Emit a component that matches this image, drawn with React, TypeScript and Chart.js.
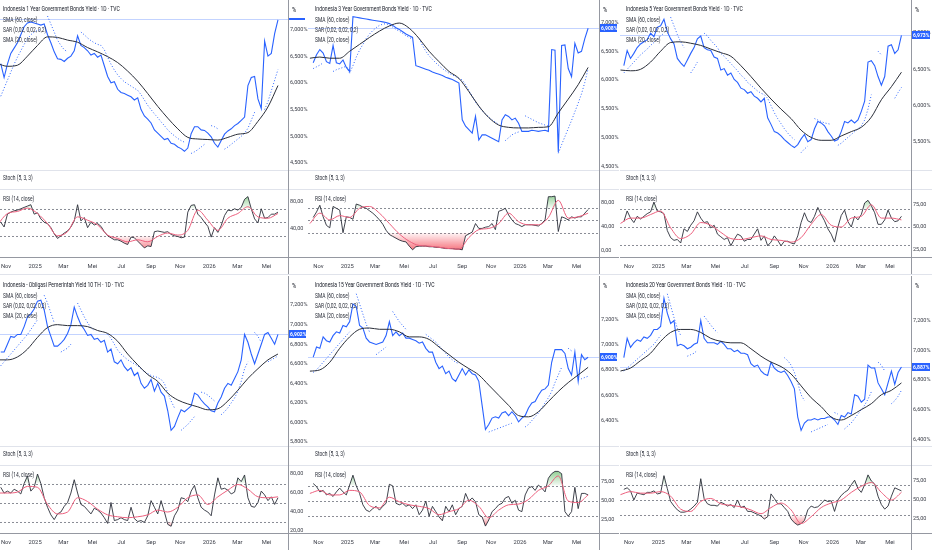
import React, { useEffect, useRef } from 'react';
import { Chart, registerables } from 'chart.js';

Chart.register(...registerables);

// ---------- time axis (days after 2024-10-01) ----------
const START_DAY = 20; // first weekly close: 2024-10-21
const STEP_DAYS = 7; // weekly closes
const SLOW_STEP = 3; // smooth lines (SMA 60, RSI MA) sampled every 3 weeks
const TIME_TICKS = [31, 92, 151, 212, 273, 335, 396, 457, 516, 577];
const TIME_LABELS = ['Nov', '2025', 'Mar', 'Mei', 'Jul', 'Sep', 'Nov', '2026', 'Mar', 'Mei'];

const RSI_LEVELS = [70, 50, 30];
const LEGEND_LINES = ['SMA (60, close)', 'SAR (0,02, 0,02, 0,2)', 'SMA (20, close)'];
const STOCH_LABEL = 'Stoch (5, 3, 3)';
const RSI_LABEL = 'RSI (14, close)';

const TITLES = [
  'Indonesia 1 Year Government Bonds Yield · 1D · TVC',
  'Indonesia 3 Year Government Bonds Yield · 1D · TVC',
  'Indonesia 5 Year Government Bonds Yield · 1D · TVC',
  'Indonesia - Obligasi Pemerintah Yield 10 TH · 1D · TVC',
  'Indonesia 15 Year Government Bonds Yield · 1D · TVC',
  'Indonesia 20 Year Government Bonds Yield · 1D · TVC',
];

// ---------- 1 Year ----------
const Y1_CLOSE = [6.36, 6.10, 6.35, 6.55, 6.65, 6.75, 6.90, 7.05, 7.12, 7.14,
  7.12, 7.10, 7.08, 7.10, 6.90, 6.75, 6.58, 6.45, 6.44, 6.40,
  6.46, 6.50, 6.60, 6.88, 6.70, 6.66, 6.60, 6.52, 6.55, 6.48,
  6.52, 6.32, 6.12, 6.00, 6.02, 5.88, 5.82, 5.80, 5.77, 5.74,
  5.68, 5.72, 5.50, 5.38, 5.32, 5.25, 5.12, 5.06, 5.00, 4.94,
  4.96, 4.87, 4.85, 4.80, 4.77, 4.72, 4.78, 5.05, 5.18, 5.18,
  5.12, 5.11, 5.06, 4.99, 4.87, 4.80, 4.92, 5.04, 5.10, 5.14,
  5.20, 5.24, 5.30, 5.36, 5.95, 6.10, 6.12, 5.70, 5.52, 6.78,
  6.50, 6.55, 6.92, 7.18];
const Y1_SMA60 = [6.36, 6.31, 6.33, 6.50, 6.70, 6.86, 6.85, 6.80, 6.76, 6.66, 6.58, 6.49, 6.38, 6.22, 6.03,
  5.80, 5.56, 5.34, 5.14, 4.98, 4.95, 4.94, 4.93, 4.98, 5.04, 5.07, 5.28, 5.55, 5.95];
const Y1_SAR = [5.75, 5.90, 6.05, 6.20, 6.35, 6.48, 6.60, 6.72, 6.82, 6.90,
  6.95, 6.98, 7.00, null, 7.25, 7.10, 6.95, 6.80, 6.70, 6.62,
  6.58, null, 6.35, null, 6.95, 6.90, 6.84, 6.79, 6.75, 6.72,
  6.70, 6.62, 6.48, 6.35, 6.24, 6.15, 6.08, 6.02, 5.98, 5.94,
  5.90, 5.86, 5.78, 5.68, 5.58, 5.50, 5.42, 5.35, 5.27, 5.20,
  5.12, 5.06, 5.01, 4.96, 4.92, 4.89, null, 4.68, 4.71, 4.75,
  4.80, 4.85, null, 5.20, 5.18, 5.14, null, 4.76, 4.80, 4.85,
  4.90, 4.95, 5.00, 5.06, 5.15, 5.30, 5.45, null, null, 5.50,
  5.65, 5.85, 6.05, 6.25];
const Y1_RSI = [50, 43, 62, 65, 67, 68, 70, 72, 74, 76,
  62, 64, 55, 50, 48, 42, 33, 26, 30, 34,
  37, 43, 52, 76, 52, 57, 42, 50, 46, 48,
  44, 36, 30, 27, 24, 24, 22, 19, 17, 28,
  27, 22, 17, 12, 15, 14, 36, 37, 36, 35,
  36, 32, 30, 29, 27, 28, 65, 75, 76, 62,
  57, 50, 44, 28, 42, 35, 45, 60, 68, 67,
  70, 68, 72, 84, 88, 70, 55, 49, 70, 56,
  57, 62, 62, 65];
const Y1_RSI_MA = [46, 63, 66, 71, 63, 48, 30, 36, 58, 53, 46, 31, 26, 21, 24, 21, 29, 34, 31, 38,
  68, 53, 38, 56, 63, 73, 58, 56, 63];

// ---------- 3 Year ----------
const Y3_CLOSE = [6.30, 6.44, 6.53, 6.47, 6.32, 6.29, 6.60, 6.30, 6.28, 6.35,
  6.22, 6.15, 7.10, 7.09, 7.08, 7.07, 7.06, 7.05, 7.04, 7.03,
  7.02, 7.01, 7.00, 6.98, 6.95, 6.91, 6.88, 6.84, 6.80, 6.77,
  6.74, 6.25, 6.23, 6.21, 6.19, 6.17, 6.14, 6.12, 6.10, 6.08,
  6.05, 6.03, 6.01, 5.98, 5.95, 5.31, 5.20, 5.14, 5.08, 5.37,
  4.96, 5.05, 5.05, 5.02, 4.99, 4.96, 4.93, 5.31, 5.40, 5.37,
  5.31, 5.34, 5.25, 5.11, 5.11, 5.11, 5.13, 5.12, 5.11, 5.12,
  5.13, 5.11, 6.53, 6.52, 4.75, 6.60, 6.61, 6.20, 6.06, 6.64,
  6.47, 6.50, 6.72, 6.90];
const Y3_SMA60 = [6.38, 6.40, 6.38, 6.38, 6.50, 6.62, 6.74, 6.85, 6.94, 6.99, 6.90, 6.72, 6.50, 6.32, 6.15,
  6.03, 5.80, 5.55, 5.35, 5.22, 5.18, 5.17, 5.17, 5.18, 5.19, 5.43, 5.67, 5.92, 6.22];
const Y3_SAR = [6.20, 6.23, 6.26, 6.30, null, null, 6.15, 6.18, 6.20, 6.22,
  6.24, 6.12, 6.25, 6.40, 6.52, 6.62, 6.72, 6.80, 6.86, 6.91,
  6.95, 6.97, 6.98, 6.95, 6.92, 6.88, 6.85, 6.81, 6.77, 6.74,
  6.71, null, 6.72, 6.60, 6.50, 6.42, 6.36, 6.30, 6.25, 6.20,
  6.16, 6.12, 6.09, 6.06, 6.03, 6.00, 5.92, 5.82, 5.72, 5.62,
  5.54, 5.47, 5.41, 5.36, 5.31, 5.27, 5.23, null, 4.95, 5.00,
  5.05, 5.08, 5.10, null, 5.38, 5.35, 5.32, 5.29, 5.26, 5.24,
  5.22, 5.20, null, null, 4.73, 4.88, 5.02, 5.16, 5.30, 5.45,
  5.60, 5.76, 5.96, 6.20];
const Y3_RSI = [55, 64, 75, 56, 42, 38, 73, 70, 67, 30,
  56, 55, 52, 77, 75, 72, 70, 66, 62, 57,
  51, 44, 34, 27, 24, 21, 18, 16, 15, 8,
  2, 7, 8, 8, 8, 7, 7, 6, 6, 5,
  4, 4, 4, 3, 3, 2, 25, 28, 31, 45,
  37, 37, 39, 40, 45, 35, 65, 67, 70, 59,
  51, 45, 43, 40, 43, 43, 43, 42, 41, 45,
  51, 89, 89, 90, 32, 56, 54, 51, 56, 54,
  56, 56, 62, 68];
const Y3_RSI_MA = [45, 62, 51, 58, 55, 70, 73, 62, 45, 28, 16, 9, 8, 6, 4, 3, 22, 35, 37, 45,
  62, 48, 43, 43, 55, 83, 54, 56, 62];

// ---------- 5 Year ----------
const Y5_CLOSE = [6.55, 6.76, 6.65, 6.72, 6.80, 6.85, 6.88, 6.91, 7.00, 6.95,
  7.08, 7.10, 7.19, 7.02, 6.92, 6.85, 6.65, 6.59, 6.54, 6.63,
  6.72, 6.80, 6.92, 6.96, 6.80, 6.77, 6.76, 6.67, 6.65, 6.49,
  6.51, 6.42, 6.45, 6.36, 6.32, 6.24, 6.22, 6.17, 6.19, 6.13,
  6.10, 6.05, 6.10, 5.83, 5.74, 5.64, 5.62, 5.58, 5.53, 5.49,
  5.45, 5.42, 5.46, 5.54, 5.60, 5.50, 5.53, 5.68, 5.78, 5.76,
  5.72, 5.64, 5.58, 5.51, 5.53, 5.64, 5.78, 5.76, 5.80, 5.76,
  5.80, 5.92, 6.06, 6.60, 6.62, 6.55, 6.40, 6.28, 6.40, 6.82,
  6.84, 6.72, 6.77, 6.97];
const Y5_SMA60 = [6.49, 6.48, 6.50, 6.60, 6.75, 6.87, 6.88, 6.86, 6.83, 6.78, 6.73, 6.68, 6.55, 6.40, 6.24,
  6.09, 5.95, 5.82, 5.66, 5.56, 5.52, 5.52, 5.58, 5.64, 5.70, 5.84, 6.08, 6.26, 6.46];
const Y5_SAR = [6.45, 6.50, 6.55, 6.60, 6.65, 6.70, 6.74, 6.78, 6.83, 6.87,
  6.92, 6.96, 7.00, null, 7.22, 7.10, 6.98, 6.88, 6.80, null,
  6.45, 6.52, 6.60, null, 7.00, 6.96, 6.90, 6.85, 6.80, 6.72,
  6.68, 6.63, 6.58, 6.53, 6.48, 6.42, 6.38, 6.32, 6.28, 6.24,
  6.20, 6.17, 6.15, 6.10, 6.00, 5.90, 5.82, 5.75, 5.68, 5.62,
  5.57, 5.53, null, 5.35, 5.40, 5.44, null, 5.82, 5.80, 5.78,
  5.76, 5.75, 5.74, null, 5.45, 5.48, 5.52, 5.56, 5.60, 5.64,
  5.68, 5.72, 5.80, 5.95, 6.15, null, 6.75, 6.70, null, 6.20,
  null, 6.10, 6.18, 6.25];
const Y5_RSI = [56, 68, 60, 55, 62, 59, 62, 65, 67, 78,
  68, 67, 65, 46, 38, 35, 36, 32, 48, 45,
  52, 57, 67, 60, 55, 56, 49, 52, 42, 39,
  36, 38, 29, 36, 42, 40, 34, 36, 36, 42,
  48, 35, 40, 29, 33, 40, 35, 29, 34, 34,
  32, 31, 40, 55, 66, 57, 55, 62, 72, 64,
  57, 48, 42, 33, 50, 63, 69, 56, 50, 62,
  58, 64, 77, 80, 74, 66, 53, 53, 58, 69,
  60, 56, 57, 62];
const Y5_RSI_MA = [54, 60, 60, 64, 68, 49, 37, 42, 55, 52, 44, 37, 36, 38, 40, 36, 35, 33, 38, 53,
  64, 52, 50, 60, 62, 75, 60, 60, 58];

// ---------- 10 Year ----------
const Y10_CLOSE = [6.72, 6.72, 6.80, 6.88, 6.87, 6.90, 6.90, 6.98, 7.08, 7.11,
  7.16, 7.24, 7.25, 7.15, 6.98, 6.88, 6.78, 6.78, 6.81, 6.85,
  6.91, 7.00, 7.18, 7.08, 7.00, 6.95, 6.89, 6.90, 6.85, 6.86,
  6.82, 6.84, 6.72, 6.75, 6.62, 6.60, 6.64, 6.57, 6.53, 6.56,
  6.48, 6.51, 6.40, 6.35, 6.38, 6.44, 6.32, 6.40, 6.31, 6.27,
  6.12, 5.92, 5.96, 6.05, 6.13, 6.11, 6.14, 6.17, 6.30, 6.28,
  6.23, 6.19, 6.16, 6.12, 6.11, 6.20, 6.26, 6.35, 6.40, 6.38,
  6.45, 6.52, 6.64, 6.90, 6.82, 6.70, 6.60, 6.70, 6.80, 6.90,
  6.92, 6.86, 6.80, 6.90];
const Y10_SMA60 = [6.64, 6.64, 6.67, 6.75, 6.87, 6.97, 7.00, 6.99, 6.99, 6.98, 6.94, 6.91, 6.83, 6.70, 6.59,
  6.49, 6.42, 6.30, 6.23, 6.19, 6.16, 6.13, 6.14, 6.22, 6.33, 6.45, 6.55, 6.64, 6.70];
const Y10_SAR = [6.58, 6.62, 6.66, 6.70, 6.74, 6.78, 6.82, 6.86, 6.90, 6.95,
  7.00, 7.05, null, 7.30, 7.22, 7.12, 7.02, null, 6.72, 6.74,
  6.76, 6.80, null, 7.22, 7.15, 7.08, 7.02, 6.97, 6.94, null,
  null, null, 6.90, 6.86, 6.80, 6.74, 6.70, 6.67, 6.64, 6.62,
  6.60, 6.58, 6.55, 6.52, 6.50, 6.48, 6.47, 6.46, 6.44, 6.40,
  6.30, 6.22, 6.15, null, 5.92, 5.95, 5.98, 6.02, 6.06, null,
  6.31, 6.30, 6.28, 6.25, 6.22, null, 6.08, 6.11, 6.15, 6.20,
  6.25, 6.32, 6.42, 6.55, 6.62, null, 6.92, 6.88, 6.82, null,
  6.62, 6.64, 6.66, 6.68];
const Y10_RSI = [66, 60, 62, 60, 64, 62, 59, 70, 78, 62,
  66, 80, 70, 55, 45, 37, 32, 38, 40, 46,
  50, 60, 74, 60, 48, 46, 42, 38, 44, 42,
  39, 34, 28, 50, 31, 32, 34, 32, 31, 45,
  33, 30, 31, 29, 36, 52, 45, 38, 52, 40,
  27, 25, 36, 42, 55, 54, 51, 62, 68, 55,
  45, 42, 40, 36, 58, 76, 64, 65, 63, 59,
  61, 76, 72, 79, 55, 46, 45, 50, 62, 58,
  52, 56, 48, 55];
const Y10_RSI_MA = [60, 60, 61, 67, 66, 48, 38, 40, 55, 51, 43, 37, 35, 34, 35, 37, 42, 40, 45, 55,
  58, 48, 56, 63, 69, 64, 56, 55, 56];

// ---------- 15 Year ----------
const Y15_CLOSE = [6.90, 6.98, 6.97, 7.06, 7.03, 7.02, 7.07, 7.10, 7.09, 7.15,
  7.14, 7.18, 7.32, 7.30, 7.15, 7.13, 7.05, 7.02, 7.01, 7.00,
  7.01, 7.02, 7.07, 7.18, 7.07, 7.10, 7.07, 7.09, 7.05, 7.05,
  7.04, 7.03, 7.01, 7.02, 6.97, 6.94, 6.94, 6.86, 6.81, 6.83,
  6.77, 6.79, 6.73, 6.71, 6.76, 6.81, 6.76, 6.80, 6.77, 6.76,
  6.71, 6.52, 6.33, 6.37, 6.42, 6.43, 6.42, 6.46, 6.47, 6.44,
  6.47, 6.44, 6.39, 6.42, 6.44, 6.50, 6.54, 6.55, 6.60, 6.64,
  6.65, 6.68, 6.86, 6.96, 6.96, 6.96, 6.93, 6.81, 6.76, 6.94,
  6.71, 6.92, 6.88, 6.90];
const Y15_SMA60 = [6.79, 6.80, 6.86, 6.97, 7.06, 7.12, 7.13, 7.12, 7.12, 7.10, 7.06, 7.06, 7.04, 6.98, 6.92,
  6.86, 6.81, 6.76, 6.68, 6.60, 6.52, 6.44, 6.43, 6.47, 6.55, 6.63, 6.70, 6.76, 6.82];
const Y15_SAR = [6.78, 6.80, 6.83, 6.86, 6.89, 6.92, 6.95, 6.98, 7.01, 7.04,
  7.07, 7.10, null, 7.40, 7.32, 7.24, 7.16, 7.10, null, 6.92,
  6.94, 6.96, 6.98, null, 7.26, 7.22, 7.18, 7.15, 7.12, null,
  null, null, null, null, 7.08, 7.06, 7.04, 7.02, 6.99, 6.96,
  6.93, 6.90, 6.88, 6.86, 6.85, null, null, null, null, null,
  null, null, null, 6.31, 6.32, 6.33, 6.34, 6.35, 6.36, 6.37,
  6.38, null, null, null, 6.35, 6.37, 6.40, 6.43, 6.46, 6.50,
  6.54, 6.58, 6.63, 6.70, 6.76, 6.82, null, 6.97, 6.95, null,
  6.72, 6.73, 6.74, 6.75];
const Y15_RSI = [73, 69, 62, 64, 58, 60, 56, 62, 67, 62,
  58, 71, 84, 70, 60, 45, 38, 36, 40, 43,
  38, 43, 47, 72, 70, 47, 45, 47, 43, 45,
  40, 45, 32, 38, 50, 30, 43, 36, 29, 24,
  43, 36, 45, 32, 40, 43, 60, 50, 54, 49,
  32, 29, 17, 25, 36, 40, 45, 47, 54, 56,
  47, 51, 38, 36, 58, 67, 69, 64, 71, 67,
  62, 80, 86, 89, 89, 86, 36, 30, 36, 68,
  40, 60, 60, 58];
const Y15_RSI_MA = [60, 64, 58, 58, 64, 62, 44, 41, 55, 49, 45, 43, 40, 32, 36, 40, 51, 43, 28, 38,
  45, 46, 52, 64, 70, 83, 50, 48, 58];

// ---------- 20 Year ----------
const Y20_CLOSE = [6.95, 7.08, 7.02, 7.05, 7.07, 7.06, 7.09, 7.08, 7.10, 7.14,
  7.14, 7.16, 7.35, 7.25, 7.18, 7.20, 7.03, 7.04, 7.03, 7.01,
  7.02, 7.04, 7.05, 7.20, 7.08, 7.05, 7.05, 7.05, 7.04, 7.06,
  7.04, 7.01, 7.01, 6.99, 7.00, 6.98, 6.98, 6.97, 6.91, 6.89,
  6.90, 6.86, 6.84, 6.83, 6.92, 6.88, 6.86, 6.85, 6.86, 6.83,
  6.79, 6.74, 6.55, 6.46, 6.51, 6.53, 6.53, 6.54, 6.53, 6.54,
  6.54, 6.55, 6.55, 6.53, 6.50, 6.56, 6.55, 6.58, 6.57, 6.70,
  6.69, 6.65, 6.67, 6.90, 6.88, 6.88, 6.78, 6.74, 6.70, 6.78,
  6.86, 6.77, 6.85, 6.887];
const Y20_SMA60 = [6.86, 6.88, 6.93, 6.98, 7.06, 7.12, 7.14, 7.14, 7.12, 7.08, 7.06, 7.05, 7.05, 7.01, 6.96,
  6.92, 6.89, 6.84, 6.76, 6.68, 6.62, 6.55, 6.53, 6.56, 6.60, 6.64, 6.70, 6.73, 6.78];
const Y20_SAR = [6.86, 6.88, 6.90, 6.92, 6.94, 6.96, 6.98, 7.00, 7.02, 7.04,
  7.07, 7.10, null, 7.38, 7.30, 7.22, 7.15, 7.10, null, 6.96,
  6.97, 6.98, 7.00, null, 7.23, 7.20, 7.17, 7.14, 7.12, null,
  null, null, null, null, null, null, null, null, null, null,
  null, null, null, null, null, null, null, null, 6.95, 6.93,
  6.90, 6.85, 6.78, 6.70, 6.66, null, 6.45, 6.46, 6.47, 6.48,
  6.49, 6.50, null, 6.58, 6.57, null, 6.47, 6.49, 6.51, 6.54,
  6.57, 6.60, 6.63, 6.67, 6.72, null, 6.92, 6.90, 6.86, null,
  6.64, 6.66, 6.69, 6.73];
const Y20_RSI = [64, 66, 62, 50, 59, 58, 57, 60, 60, 62,
  58, 59, 82, 65, 48, 42, 37, 34, 34, 35,
  38, 42, 47, 78, 52, 45, 43, 43, 42, 47,
  45, 42, 44, 40, 50, 40, 42, 35, 35, 33,
  31, 29, 25, 28, 58, 52, 45, 45, 40, 35,
  25, 20, 17, 19, 23, 37, 42, 40, 41, 45,
  50, 48, 49, 35, 50, 56, 60, 63, 70, 76,
  65, 60, 70, 83, 75, 71, 55, 44, 38, 42,
  55, 66, 64, 62];
const Y20_RSI_MA = [57, 61, 59, 59, 61, 55, 38, 35, 48, 52, 45, 43, 41, 37, 32, 40, 46, 37, 19, 28,
  40, 46, 50, 60, 68, 73, 60, 50, 60];

// ---------- axis ticks & last values ----------
const PRICE_TICKS = [
  [4.5, 5, 5.5, 6, 6.5, 7],
  [4.5, 5, 5.5, 6, 6.5, 7],
  [5.5, 6, 6.5, 7],
  [5.8, 6, 6.2, 6.4, 6.6, 6.8, 7, 7.2],
  [6.4, 6.6, 6.8, 7, 7.2],
  [6.4, 6.6, 6.8, 7, 7.2],
];
const RSI_TICKS = [[40, 80], [0, 40, 80], [25, 50, 75], [20, 40, 60, 80], [25, 50, 75], [25, 50, 75]];
const LAST_VALUES = [7.2, 6.908, 6.973, 6.902, 6.9, 6.887];
const LAST_SHOWN = [false, true, true, true, true, true];

// ---------- layout & style ----------
const FONT = 'Roboto, "Liberation Sans", sans-serif';
const BLUE = '#2962ff';
const DARK = '#2a2e39';
const MA_PINK = '#ec5f7d';
const TITLE_C = '#131722';
const AXIS_TEXT = '#3b3e48';
const SEP = '#e0e3eb';
const AXIS_LINE = '#9598a1';

const COLS = [
  { x: 0, plotW: 288, axisW: 20, textX: 3, xMin: 18.4, xMax: 622 },
  { x: 308, plotW: 291, axisW: 20, textX: 7, xMin: 9, xMax: 624 },
  { x: 620, plotW: 291, axisW: 21, textX: 6, xMin: 12, xMax: 621 },
];
const ROW_TOPS = [0, 276];
const PRICE_H = 170;
const STOCH_H = 19;
const RSI_H = 68;
const TIME_H = 18;

const PANELS = [
  { col: 0, row: 0, title: TITLES[0], close: Y1_CLOSE, sma: Y1_SMA60, sar: Y1_SAR, rsi: Y1_RSI, rsiMa: Y1_RSI_MA,
    pMin: 4.37, pMax: 7.55, pTicks: PRICE_TICKS[0], rMin: -1.5, rMax: 99.3, rTicks: RSI_TICKS[0], last: LAST_VALUES[0], lastShown: LAST_SHOWN[0] },
  { col: 1, row: 0, title: TITLES[1], close: Y3_CLOSE, sma: Y3_SMA60, sar: Y3_SAR, rsi: Y3_RSI, rsiMa: Y3_RSI_MA,
    pMin: 4.44, pMax: 7.39, pTicks: PRICE_TICKS[1], rMin: -9.8, rMax: 101.6, rTicks: RSI_TICKS[1], last: LAST_VALUES[1], lastShown: LAST_SHOWN[1] },
  { col: 2, row: 0, title: TITLES[2], close: Y5_CLOSE, sma: Y5_SMA60, sar: Y5_SAR, rsi: Y5_RSI, rsiMa: Y5_RSI_MA,
    pMin: 5.11, pMax: 7.457, pTicks: PRICE_TICKS[2], rMin: 16.3, rMax: 92.7, rTicks: RSI_TICKS[2], last: LAST_VALUES[2], lastShown: LAST_SHOWN[2] },
  { col: 0, row: 1, title: TITLES[3], close: Y10_CLOSE, sma: Y10_SMA60, sar: Y10_SAR, rsi: Y10_RSI, rsiMa: Y10_RSI_MA,
    pMin: 5.76, pMax: 7.497, pTicks: PRICE_TICKS[3], rMin: 17.9, rMax: 89.5, rTicks: RSI_TICKS[3], last: LAST_VALUES[3], lastShown: LAST_SHOWN[3] },
  { col: 1, row: 1, title: TITLES[4], close: Y15_CLOSE, sma: Y15_SMA60, sar: Y15_SAR, rsi: Y15_RSI, rsiMa: Y15_RSI_MA,
    pMin: 6.2, pMax: 7.54, pTicks: PRICE_TICKS[4], rMin: 7.9, rMax: 97.4, rTicks: RSI_TICKS[4], last: LAST_VALUES[4], lastShown: LAST_SHOWN[4] },
  { col: 2, row: 1, title: TITLES[5], close: Y20_CLOSE, sma: Y20_SMA60, sar: Y20_SAR, rsi: Y20_RSI, rsiMa: Y20_RSI_MA,
    pMin: 6.355, pMax: 7.5, pTicks: PRICE_TICKS[5], rMin: 6.6, rMax: 96, rTicks: RSI_TICKS[5], last: LAST_VALUES[5], lastShown: LAST_SHOWN[5] },
];

// ---------- helpers ----------
const weekX = (k: number) => START_DAY + STEP_DAYS * k;
const slowX = (j: number) => START_DAY + STEP_DAYS * (SLOW_STEP * j - 1);
const toPts = (arr: (number | null)[], fx: (i: number) => number) => arr.map((y, i) => ({ x: fx(i), y }));
const fmtPct = (v: number) => v.toFixed(3).replace('.', ',') + '%';
const fmtRsi = (v: number) => v.toFixed(2).replace('.', ',');
const tickFont = { family: FONT, size: 5.5 };

function yAxis(min: number, max: number, ticks: number[], axisW: number, fmt: (v: number) => string) {
  return {
    position: 'right',
    min,
    max,
    afterBuildTicks: (s: any) => { s.ticks = ticks.map((v) => ({ value: v })); },
    afterFit: (s: any) => { s.width = axisW; s.paddingTop = 0; s.paddingBottom = 0; },
    ticks: { callback: (v: any) => fmt(Number(v)), font: tickFont, color: AXIS_TEXT, padding: 2, autoSkip: false },
    grid: { display: false, drawTicks: false },
    border: { display: false },
  };
}

function zoneGradient(chart: any, level: number, up: boolean) {
  const { ctx, chartArea, scales } = chart;
  const fallback = up ? 'rgba(76,175,80,0.35)' : 'rgba(242,54,69,0.35)';
  const y = scales && scales.y;
  if (!chartArea || !y) return fallback;
  const ly = y.getPixelForValue(level);
  const ey = up ? chartArea.top : chartArea.bottom;
  if (!isFinite(ly) || !isFinite(ey) || Math.abs(ly - ey) < 1) return fallback;
  const g = ctx.createLinearGradient(0, ly, 0, ey);
  g.addColorStop(0, up ? 'rgba(76,175,80,0.05)' : 'rgba(242,54,69,0.04)');
  g.addColorStop(1, up ? 'rgba(76,175,80,0.85)' : 'rgba(242,54,69,0.95)');
  return g;
}

const baseOptions = {
  responsive: false,
  maintainAspectRatio: false,
  animation: false,
  events: [],
  layout: { padding: 0 },
  plugins: { legend: { display: false }, tooltip: { enabled: false } },
};

function priceConfig(p: any, c: any) {
  const lastPlugin = {
    id: 'lastPrice',
    beforeDatasetsDraw(chart: any) {
      const { ctx, chartArea, scales } = chart;
      const py = Math.round(scales.y.getPixelForValue(p.last)) + 0.5;
      ctx.save();
      ctx.strokeStyle = 'rgba(41,98,255,0.28)';
      ctx.lineWidth = 1;
      ctx.beginPath();
      ctx.moveTo(chartArea.left, py);
      ctx.lineTo(chartArea.right, py);
      ctx.stroke();
      ctx.restore();
    },
    afterDraw(chart: any) {
      const { ctx, chartArea, scales } = chart;
      const py = scales.y.getPixelForValue(p.last);
      const boxW = c.axisW - 3;
      ctx.save();
      ctx.fillStyle = BLUE;
      if (p.lastShown) {
        const h = 8;
        ctx.fillRect(chartArea.right + 1, Math.round(py - h / 2), boxW, h);
        ctx.fillStyle = '#ffffff';
        ctx.font = `bold 5px ${FONT}`;
        ctx.textBaseline = 'middle';
        ctx.textAlign = 'left';
        ctx.fillText(fmtPct(p.last), chartArea.right + 2, Math.round(py) + 0.5);
      } else {
        ctx.fillRect(chartArea.right, Math.round(py) - 1, boxW, 2);
      }
      ctx.restore();
    },
  };
  return {
    type: 'line',
    data: {
      datasets: [
        { data: toPts(p.close, weekX), borderColor: BLUE, borderWidth: 1.1, pointRadius: 0, tension: 0, order: 1 },
        { data: toPts(p.sma, slowX), borderColor: DARK, borderWidth: 1, pointRadius: 0, cubicInterpolationMode: 'monotone', order: 0 },
        { data: toPts(p.sar, weekX), borderColor: BLUE, borderWidth: 1, borderDash: [1, 2], pointRadius: 0, spanGaps: false, order: 2 },
      ],
    },
    options: {
      ...baseOptions,
      scales: {
        x: { type: 'linear', min: c.xMin, max: c.xMax, display: false },
        y: yAxis(p.pMin, p.pMax, p.pTicks, c.axisW, fmtPct),
      },
    },
    plugins: [lastPlugin],
  };
}

function rsiConfig(p: any, c: any) {
  const levelsPlugin = {
    id: 'rsiLevels',
    beforeDatasetsDraw(chart: any) {
      const { ctx, chartArea, scales } = chart;
      ctx.save();
      ctx.setLineDash([2, 2]);
      ctx.strokeStyle = '#8a8d96';
      ctx.lineWidth = 1;
      for (const v of RSI_LEVELS) {
        const py = Math.round(scales.y.getPixelForValue(v)) + 0.5;
        ctx.beginPath();
        ctx.moveTo(chartArea.left, py);
        ctx.lineTo(chartArea.right, py);
        ctx.stroke();
      }
      ctx.restore();
    },
  };
  const rsiPts = toPts(p.rsi, weekX);
  return {
    type: 'line',
    data: {
      datasets: [
        { data: rsiPts, borderColor: DARK, borderWidth: 0.9, pointRadius: 0, tension: 0,
          fill: { target: { value: 30 }, above: 'rgba(0,0,0,0)' },
          backgroundColor: (ctx: any) => zoneGradient(ctx.chart, 30, false), order: 1 },
        { data: rsiPts, borderColor: 'rgba(0,0,0,0)', borderWidth: 1, pointRadius: 0, tension: 0,
          fill: { target: { value: 70 }, below: 'rgba(0,0,0,0)' },
          backgroundColor: (ctx: any) => zoneGradient(ctx.chart, 70, true), order: 2 },
        { data: toPts(p.rsiMa, slowX), borderColor: MA_PINK, borderWidth: 1, pointRadius: 0, cubicInterpolationMode: 'monotone', order: 0 },
      ],
    },
    options: {
      ...baseOptions,
      scales: {
        x: {
          type: 'linear', min: c.xMin, max: c.xMax, position: 'bottom',
          afterBuildTicks: (s: any) => { s.ticks = TIME_TICKS.map((v) => ({ value: v })); },
          afterFit: (s: any) => { s.height = TIME_H; s.paddingLeft = 0; s.paddingRight = 0; },
          ticks: { callback: (_v: any, i: number) => TIME_LABELS[i], font: { family: FONT, size: 5.8 }, color: AXIS_TEXT, padding: 6, autoSkip: false, maxRotation: 0 },
          grid: { display: false, drawTicks: false },
          border: { display: false },
        },
        y: yAxis(p.rMin, p.rMax, p.rTicks, c.axisW, fmtRsi),
      },
    },
    plugins: [levelsPlugin],
  };
}

// ---------- components ----------
function ChartCanvas({ left, top, width, height, build }: any) {
  const ref = useRef<HTMLCanvasElement>(null);
  useEffect(() => {
    const chart = new Chart(ref.current as HTMLCanvasElement, build());
    return () => chart.destroy();
  }, []);
  return <canvas ref={ref} width={width} height={height} style={{ position: 'absolute', left, top, width, height }} />;
}

function Label({ left, cy, size = 6.3, squeeze = 0.78, color = DARK, children }: any) {
  const h = size + 2;
  return (
    <div style={{ position: 'absolute', left, top: cy - h / 2, height: h, lineHeight: `${h}px`, fontSize: size,
      color, whiteSpace: 'nowrap', fontFamily: FONT, transform: `scaleX(${squeeze})`, transformOrigin: '0 50%' }}>{children}</div>
  );
}

function HLine({ left, top, width, color }: any) {
  return <div style={{ position: 'absolute', left, top, width, height: 1, background: color }} />;
}

function VLine({ left, top, height, color }: any) {
  return <div style={{ position: 'absolute', left, top, width: 1, height, background: color }} />;
}

function Panel({ p }: any) {
  const c = COLS[p.col];
  const top = ROW_TOPS[p.row];
  const W = c.plotW + c.axisW;
  const stochTop = top + PRICE_H;
  const rsiTop = stochTop + STOCH_H;
  const rsiBottom = rsiTop + RSI_H;
  return (
    <>
      <ChartCanvas left={c.x} top={top} width={W} height={PRICE_H} build={() => priceConfig(p, c)} />
      <ChartCanvas left={c.x} top={rsiTop} width={W} height={RSI_H + TIME_H} build={() => rsiConfig(p, c)} />
      <HLine left={c.x} top={stochTop} width={W} color={SEP} />
      <HLine left={c.x} top={rsiTop} width={W} color={SEP} />
      <HLine left={c.x} top={rsiBottom} width={W} color={AXIS_LINE} />
      <VLine left={c.x + c.plotW} top={top} height={PRICE_H + STOCH_H + RSI_H + TIME_H} color={AXIS_LINE} />
      <Label left={c.x + c.textX} cy={top + 9.5} size={7} squeeze={0.72} color={TITLE_C}>{p.title}</Label>
      {LEGEND_LINES.map((s, i) => (
        <Label key={i} left={c.x + c.textX} cy={top + 20.5 + 10 * i}>{s}</Label>
      ))}
      <Label left={c.x + c.plotW + 4} cy={top + 10} color={TITLE_C} squeeze={0.9}>%</Label>
      <Label left={c.x + c.textX} cy={stochTop + 8}>{STOCH_LABEL}</Label>
      <Label left={c.x + c.textX} cy={rsiTop + 10}>{RSI_LABEL}</Label>
    </>
  );
}

export default function App() {
  return (
    <div style={{ position: 'absolute', left: 0, top: 0, width: 932, height: 550, overflow: 'hidden', background: '#ffffff', fontFamily: FONT }}>
      {PANELS.map((p, i) => <Panel key={i} p={p} />)}
      <HLine left={0} top={274} width={932} color={SEP} />
    </div>
  );
}
